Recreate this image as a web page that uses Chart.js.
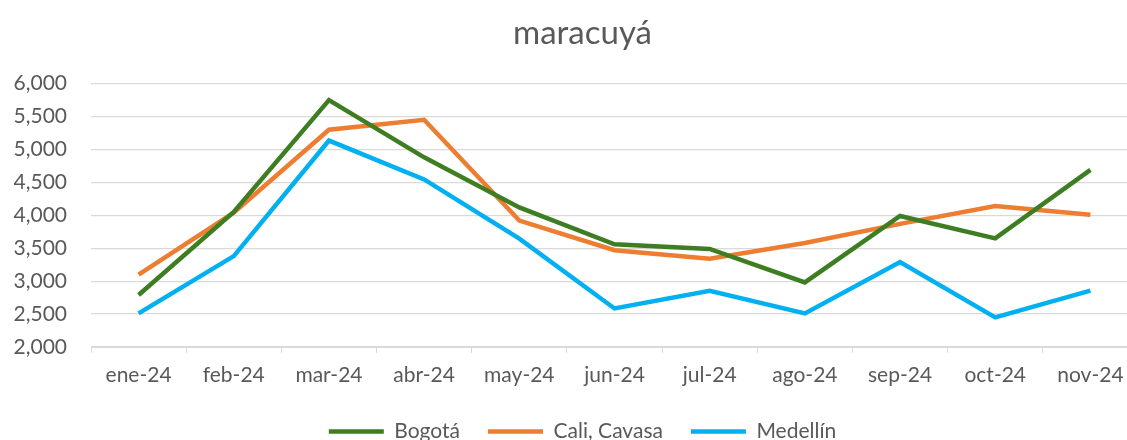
<!DOCTYPE html>
<html>
<head>
<meta charset="utf-8">
<script src="https://cdn.jsdelivr.net/npm/chart.js@4/dist/chart.umd.min.js"></script>
<style>
  html, body { margin: 0; padding: 0; background: #fff; overflow: hidden; }
  #wrap { position: absolute; left: 0; top: 0; width: 1165px; height: 460px; }
</style>
</head>
<body>
<div id="wrap"><canvas id="chart"></canvas></div>
<script>
// Data
const months = ["ene-24", "feb-24", "mar-24", "abr-24", "may-24", "jun-24", "jul-24", "ago-24", "sep-24", "oct-24", "nov-24"];
const bogota = [2790, 4050, 5750, 4880, 4120, 3560, 3490, 2980, 3990, 3650, 4690];
const cali = [3100, 4040, 5300, 5450, 3920, 3470, 3340, 3580, 3870, 4140, 4010];
const medellin = [2510, 3380, 5135, 4545, 3645, 2585, 2855, 2510, 3290, 2450, 2855];

const FONT = "Lato, 'Open Sans', sans-serif";
const TEXT = "#595959";
const GRID = "#d9d9d9";

function series(label, data, color) {
  return {
    label: label,
    data: data,
    borderColor: color,
    backgroundColor: color,
    borderWidth: 4.5,
    pointRadius: 0,
    pointHoverRadius: 0,
    tension: 0,
    fill: false,
    pointStyle: "line",
  };
}

const ctx = document.getElementById("chart").getContext("2d");
new Chart(ctx, {
  type: "line",
  data: {
    labels: months,
    datasets: [
      series("Bogotá", bogota, "#3e7e22"),
      series("Cali, Cavasa", cali, "#ed7d31"),
      series("Medellín", medellin, "#00b0f0"),
    ],
  },
  options: {
    responsive: true,
    maintainAspectRatio: false,
    animation: false,
    plugins: {
      title: {
        display: true,
        text: "maracuyá",
        color: TEXT,
        font: { family: FONT, size: 33, weight: "normal" },
        padding: { top: 14, bottom: 30 },
      },
      legend: {
        position: "bottom",
        labels: {
          color: TEXT,
          font: { family: FONT, size: 21 },
          usePointStyle: true,
          pointStyleWidth: 55,
          padding: 28,
        },
      },
      tooltip: { enabled: false },
    },
    scales: {
      x: {
        offset: true,
        grid: {
          offset: true,
          drawOnChartArea: false,
          drawTicks: true,
          tickLength: 6,
          color: GRID,
        },
        border: { color: GRID },
        ticks: {
          color: TEXT,
          font: { family: FONT, size: 21 },
          padding: 10,
          maxRotation: 0,
          autoSkip: false,
        },
        afterFit(scale) { scale.height = 46; },
      },
      y: {
        min: 2000,
        max: 6000,
        grid: { color: GRID, drawTicks: false, lineWidth: 1.3 },
        border: { display: false },
        ticks: {
          stepSize: 500,
          color: TEXT,
          font: { family: FONT, size: 21 },
          padding: 24,
        },
        afterFit(scale) { scale.width = 91; },
      },
      // empty right-hand axis, only keeps a margin on the right of the plot
      yRight: {
        position: "right",
        grid: { display: false },
        border: { display: false },
        ticks: { display: false },
        afterFit(scale) { scale.width = 27; },
      },
    },
  },
  plugins: [
    {
      id: "legendHeight",
      beforeInit(chart) {
        const fitValue = chart.legend.fit;
        chart.legend.fit = function fit() {
          fitValue.bind(chart.legend)();
          this.height = 67;
        };
      },
    },
  ],
});
</script>
</body>
</html>
